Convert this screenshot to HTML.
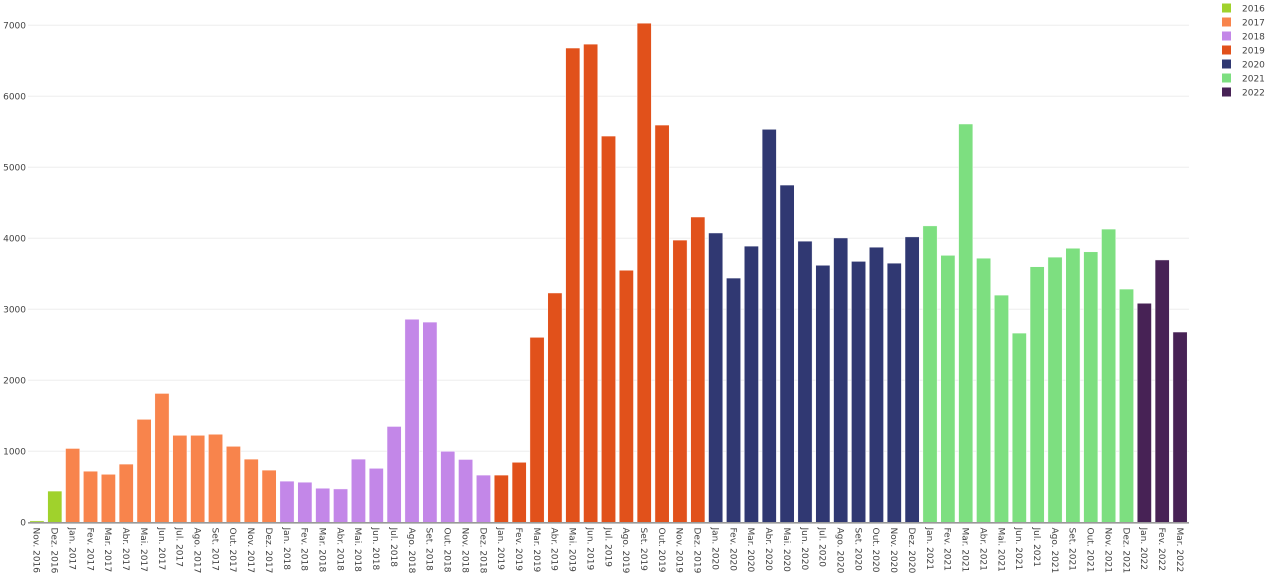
<!DOCTYPE html>
<html><head><meta charset="utf-8"><style>
html,body{margin:0;padding:0;background:#fff;}
svg{display:block;}
text{font-family:"DejaVu Sans","Liberation Sans",sans-serif;fill:#444;font-size:9px;}
</style></head><body>
<svg id="c" width="1269" height="579" xmlns="http://www.w3.org/2000/svg">
<g id="grid" stroke="#eeeeee" stroke-width="1"></g>
<g id="bars"></g>
<line x1="28" y1="522.8" x2="1189" y2="522.8" stroke="#999" stroke-width="1.6"/>
<g id="yl"></g>
<g id="xl"></g>
<g id="leg"></g>
</svg>
<script>
var NS="http://www.w3.org/2000/svg";
function el(t,a,p,txt){var e=document.createElementNS(NS,t);for(var k in a)e.setAttribute(k,a[k]);if(txt!=null)e.textContent=txt;p.appendChild(e);return e;}
var y0=522.3,s=0.071;
function Y(v){return y0-v*s;}
var grid=document.getElementById('grid'),yl=document.getElementById('yl');
for(var v=0;v<=7000;v+=1000){
 if(v>0)el('line',{x1:28,x2:1189,y1:Y(v),y2:Y(v)},grid);
 el('text',{x:26,y:Y(v)+3.2,'text-anchor':'end'},yl,String(v));
}
var cols={2016:'#a0d22c',2017:'#f8844c',2018:'#c387e8',2019:'#e1511b',2020:'#303872',2021:'#7ddf80',2022:'#472255'};
var vals=[20,440,1040,720,676,820,1450,1815,1225,1225,1240,1070,890,735,580,565,480,470,890,760,1350,2860,2820,1000,885,665,665,845,2605,3230,6680,6735,5440,3550,7030,5595,3975,4300,4075,3440,3890,5535,4750,3960,3620,4005,3675,3875,3650,4020,4175,3760,5610,3720,3200,2665,3600,3735,3860,3810,4130,3285,3085,3695,2680];
var mon=['Jan.','Fev.','Mar.','Abr.','Mai.','Jun.','Jul.','Ago.','Set.','Out.','Nov.','Dez.'];
var bars=document.getElementById('bars'),xl=document.getElementById('xl');
var p=(1189-28)/65,w=p*0.8;
for(var i=0;i<65;i++){
 var m=(10+i)%12,yr=2016+Math.floor((10+i)/12);
 var cx=28+(i+0.5)*p;
 el('rect',{x:cx-w/2,y:Y(vals[i]),width:w,height:vals[i]*s,fill:cols[yr],stroke:'#fff','stroke-width':0.5},bars);
 el('text',{transform:'translate('+(cx-3.2)+',527.5) rotate(90)','text-anchor':'start'},xl,mon[m]+' '+yr);
}
var leg=document.getElementById('leg'),k=0;
for(var yv=2016;yv<=2022;yv++){
 var cy=8+k*14;
 el('rect',{x:1222,y:cy-4.5,width:9,height:9,fill:cols[yv]},leg);
 el('text',{x:1242,y:cy+3.3},leg,String(yv));
 k++;
}
</script>
</body></html>
